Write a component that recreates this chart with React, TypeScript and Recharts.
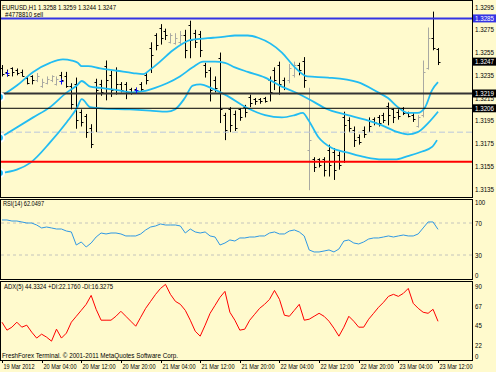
import React from "react";
import {
  ComposedChart,
  Bar,
  Line,
  Scatter,
  XAxis,
  YAxis,
  ReferenceLine,
} from "recharts";

const FONT = "'Liberation Sans', Arial, sans-serif";
const BG = "#fffacd";
const BAND = "#22bcf2";
const UP = "#a9a9a2";
const DOWN = "#000000";
const X_DOMAIN: [number, number] = [-0.4, 94.86];

// EURUSD H1 bars, 19 Mar 20:00 .. 23 Mar 12:00
const opens = [
  1.3241, 1.3238, 1.3241, 1.324, 1.3238, 1.3233, 1.3234, 1.3231, 1.3226, 1.3228,
  1.3231, 1.3227, 1.3235, 1.3234, 1.3226, 1.3227, 1.3203, 1.3199, 1.3189, 1.3229,
  1.3227, 1.3243, 1.3235, 1.324, 1.3227, 1.3227, 1.3223, 1.3223, 1.3227, 1.3235,
  1.3259, 1.327, 1.3277, 1.3274, 1.3264, 1.3263, 1.3264, 1.327, 1.3279, 1.3272,
  1.3271, 1.3244, 1.324, 1.3231, 1.325, 1.32, 1.3205, 1.3201, 1.3205, 1.3207,
  1.3216, 1.3214, 1.3214, 1.3215, 1.3231, 1.324, 1.3244, 1.3231, 1.3231, 1.3235,
  1.3244, 1.3248, 1.3169, 1.3161, 1.3161, 1.3161, 1.3169, 1.3168, 1.3165, 1.3198,
  1.3196, 1.3187, 1.3181, 1.3187, 1.3196, 1.3197, 1.3198, 1.32, 1.3208, 1.3205,
  1.3203, 1.3206, 1.3202, 1.32, 1.319, 1.32, 1.3241, 1.3268, 1.3258,
];
const highs = [
  1.3244, 1.324, 1.3242, 1.3241, 1.324, 1.3234, 1.3235, 1.3237, 1.3232, 1.3234,
  1.3235, 1.3234, 1.3238, 1.3238, 1.3228, 1.3233, 1.3205, 1.3201, 1.3192, 1.3232,
  1.3231, 1.3248, 1.3239, 1.3242, 1.3229, 1.3229, 1.3224, 1.3224, 1.3229, 1.3237,
  1.3264, 1.3272, 1.328, 1.3276, 1.3272, 1.3272, 1.3274, 1.3275, 1.3283, 1.3275,
  1.3274, 1.3246, 1.3242, 1.3234, 1.3255, 1.3202, 1.3207, 1.3204, 1.3206, 1.3209,
  1.3218, 1.3215, 1.3215, 1.3216, 1.3234, 1.3242, 1.3247, 1.3233, 1.3245, 1.3247,
  1.3246, 1.3251, 1.3224, 1.3163, 1.3162, 1.3163, 1.3174, 1.3171, 1.3168, 1.3203,
  1.3198, 1.319, 1.3183, 1.319, 1.3198, 1.3198, 1.32, 1.3202, 1.3211, 1.3206,
  1.3205, 1.3207, 1.3203, 1.3202, 1.32, 1.3248, 1.3277, 1.3291, 1.3259,
];
const lows = [
  1.3234, 1.3234, 1.3234, 1.3235, 1.3234, 1.3227, 1.3227, 1.3229, 1.3224, 1.3227,
  1.3229, 1.3226, 1.3228, 1.3224, 1.3205, 1.3188, 1.319, 1.318, 1.3171, 1.3185,
  1.3217, 1.3213, 1.3216, 1.3218, 1.322, 1.3214, 1.3218, 1.322, 1.3221, 1.3227,
  1.3237, 1.3257, 1.3262, 1.3266, 1.3263, 1.3262, 1.3262, 1.325, 1.325, 1.3259,
  1.3251, 1.3233, 1.3212, 1.322, 1.3193, 1.3178, 1.3185, 1.3186, 1.3195, 1.3198,
  1.3207, 1.3209, 1.321, 1.3211, 1.3212, 1.3222, 1.3218, 1.3222, 1.3228, 1.3233,
  1.3235, 1.3224, 1.3134, 1.315, 1.3154, 1.3146, 1.3146, 1.3143, 1.3152, 1.3158,
  1.3185, 1.3172, 1.3174, 1.318, 1.3185, 1.3191, 1.319, 1.3193, 1.3191, 1.3193,
  1.3196, 1.32, 1.3198, 1.3194, 1.3189, 1.3198, 1.324, 1.3257, 1.3244,
];
const closes = [
  1.3236, 1.3235, 1.3238, 1.3237, 1.3234, 1.3228, 1.3231, 1.3234, 1.3229, 1.3232,
  1.3234, 1.3232, 1.3231, 1.3226, 1.321, 1.3196, 1.3194, 1.3185, 1.3175, 1.3222,
  1.322, 1.3231, 1.3222, 1.3227, 1.3222, 1.3219, 1.3219, 1.3221, 1.3223, 1.3231,
  1.3253, 1.3262, 1.3268, 1.327, 1.327, 1.3268, 1.327, 1.3257, 1.3266, 1.3264,
  1.3257, 1.3238, 1.3222, 1.3224, 1.3205, 1.3187, 1.3191, 1.3189, 1.3198, 1.3203,
  1.3211, 1.3212, 1.3212, 1.3212, 1.322, 1.3231, 1.3227, 1.3224, 1.3241, 1.3244,
  1.324, 1.3231, 1.3178, 1.3154, 1.3156, 1.3152, 1.3156, 1.3152, 1.3156, 1.3191,
  1.3189, 1.3178, 1.3176, 1.3183, 1.319, 1.3194, 1.3193, 1.3196, 1.32, 1.3198,
  1.3199, 1.3202, 1.3199, 1.3197, 1.3198, 1.3238, 1.3268, 1.3259, 1.3247,
];

// Bollinger bands: [bar position, price]
const upperBand = [
  [-0.4, 1.3216], [3, 1.3226], [6.3, 1.3238], [9.7, 1.3246], [12.3, 1.3249],
  [14.1, 1.3248], [15.3, 1.3246], [16.1, 1.3243], [17.4, 1.3243], [19.8, 1.3241],
  [23.2, 1.3239], [26.4, 1.3237], [28.5, 1.3236], [29.9, 1.324], [31.9, 1.3247],
  [34.5, 1.3257], [36.5, 1.3263], [37.9, 1.3266], [40, 1.3267], [42.6, 1.3268],
  [45, 1.3269], [47, 1.327], [49.6, 1.327], [51.7, 1.3268], [56.5, 1.3255],
  [59.1, 1.3242], [61.6, 1.3234], [65.8, 1.3233], [71.8, 1.3229], [75.9, 1.322],
  [77.9, 1.3215], [79.9, 1.3207], [81.9, 1.3202], [83.9, 1.3202], [85.4, 1.3207],
  [86.8, 1.3222], [88, 1.3229],
];
const middleBand = [
  [-0.4, 1.318], [6.3, 1.3198], [9.7, 1.3207], [13.1, 1.322], [15.1, 1.3226],
  [16.1, 1.323], [17.8, 1.3225], [19.8, 1.3224], [23.2, 1.3222], [26.4, 1.322],
  [28.5, 1.3221], [30.9, 1.3224], [33.3, 1.3228], [35.9, 1.3234], [38.5, 1.3242],
  [40.6, 1.3247], [43, 1.3247], [45, 1.3246], [47, 1.3242], [49.6, 1.3238],
  [53.1, 1.3233], [56.5, 1.3225], [59.7, 1.3219], [63.2, 1.3211], [65.2, 1.3206],
  [69.8, 1.32], [73.3, 1.3196], [76.7, 1.3191], [79.9, 1.3185], [81.9, 1.3183],
  [83.9, 1.3185], [86, 1.3193], [88, 1.3203],
];
const lowerBand = [
  [-0.4, 1.3149], [3, 1.3152], [5.7, 1.3158], [9.7, 1.3176], [13.1, 1.3194],
  [15.1, 1.3206], [16.1, 1.3214], [17.8, 1.3207], [19.8, 1.3206], [25.8, 1.3205],
  [29.9, 1.3204], [33.3, 1.3203], [34.9, 1.3205], [36.9, 1.3215], [38.5, 1.3226],
  [40, 1.3227], [42.6, 1.3223], [45, 1.3218], [49.6, 1.3206], [53.1, 1.32],
  [56.5, 1.3198], [59.1, 1.32], [60.7, 1.3202], [61.8, 1.3196], [63.8, 1.3181],
  [66.6, 1.3171], [69.8, 1.3167], [73.3, 1.3163], [76.7, 1.3161], [79.3, 1.3161],
  [81.9, 1.3164], [84.8, 1.3168], [86.8, 1.3172], [87.8, 1.3178],
];

const tradeMarks = [[1, 1.3237], [12, 1.323], [27, 1.3222]];

const rsi = [
  73.8, 73.8, 72.5, 72.5, 71.3, 70, 70, 67.5, 63.8, 65, 63.8, 62.5, 62.5, 60,
  58.8, 42.5, 46.3, 40, 45, 52.5, 57.5, 56.3, 57.5, 57.5, 56.3, 53.8, 53.8, 53.8,
  56.3, 61.3, 65, 66.3, 68.8, 67.5, 67.5, 67.5, 66.3, 57.5, 62.5, 58.8, 57.5,
  58.8, 53.8, 52.5, 42.5, 45, 48.8, 47.5, 51.3, 51.3, 52.5, 52.5, 53.8, 53.8,
  57.5, 58.8, 56.3, 56.3, 60, 61.3, 58.8, 53.8, 36.3, 33.8, 33.8, 35, 36.3, 33.8,
  37.5, 47.5, 48.8, 45, 43.8, 46.3, 50, 51.3, 51.3, 52.5, 53.8, 52.5, 53.8, 55,
  53.8, 53.8, 56.3, 63.8, 71.3, 71.3, 62.05,
];
const adx = [
  43.3, 34.2, 37.6, 43.3, 37.6, 39.9, 31.9, 25.1, 29.6, 26.2, 21.6, 35.3, 25.1,
  30.8, 43.3, 50.1, 56.9, 63.8, 74, 58.1, 45.6, 45.6, 45.6, 50.1, 55.8, 50.1,
  44.4, 38.7, 49, 59.2, 67.2, 75.2, 82, 86.6, 75.2, 67.2, 63.8, 56.9, 45.6, 33,
  27.3, 39.9, 53.5, 62.6, 71.8, 78.6, 54.7, 45.6, 34.2, 35.3, 45.6, 52.4, 59.2,
  63.8, 69.5, 79.7, 69.5, 51.3, 50.1, 56.9, 63.8, 45.6, 46.7, 50.1, 53.5, 50.1,
  44.4, 36.4, 27.3, 37.6, 50.1, 44.4, 37.6, 37.6, 46.7, 53.5, 60.4, 66.1, 72.9,
  75.2, 72.9, 76.3, 82, 64.9, 59.2, 54.7, 53.5, 58.1, 44.33,
];

const priceTicks = [1.3135, 1.3155, 1.3175, 1.3195, 1.3215, 1.3235, 1.3255, 1.3275, 1.3295];
const rsiTicks = [0, 30, 70, 100];
const adxTicks = [0, 22, 45, 67, 90];
const timeTicks = [0, 8, 16, 24, 32, 40, 48, 56, 64, 72, 80, 88];
const timeLabels = [
  "19 Mar 2012", "20 Mar 04:00", "20 Mar 12:00", "20 Mar 20:00", "21 Mar 04:00",
  "21 Mar 12:00", "21 Mar 20:00", "22 Mar 04:00", "22 Mar 12:00", "22 Mar 20:00",
  "23 Mar 04:00", "23 Mar 12:00",
];

const bars = opens.map((o, i) => ({
  i,
  open: o,
  high: highs[i],
  low: lows[i],
  close: closes[i],
  range: [lows[i], highs[i]],
}));
const toPts = (arr: number[][]) => arr.map(([i, v]) => ({ i, v }));
const rsiData = rsi.map((v, i) => ({ i, v }));
const adxData = adx.map((v, i) => ({ i, v }));

// small terminal-style text, squeezed to the narrow width MT4 uses
function T({ x, y, w, fill = "#000", children }: any) {
  return (
    <text
      x={x}
      y={y}
      fontSize={7}
      fontFamily={FONT}
      fill={fill}
      textLength={w}
      lengthAdjust="spacingAndGlyphs"
    >
      {children}
    </text>
  );
}

function OhlcBar(props: any) {
  const { x, y, width, height, payload } = props;
  if (x == null || y == null) return null;
  const cx = Math.round(x + width / 2) + 0.5;
  const top = Math.min(y, y + height);
  const bot = Math.max(y, y + height);
  const span = payload.high - payload.low || 1;
  const py = (v: number) => top + ((payload.high - v) / span) * (bot - top);
  const color = payload.close > payload.open ? UP : DOWN;
  const oy = Math.round(py(payload.open)) + 0.5;
  const cy = Math.round(py(payload.close)) + 0.5;
  return (
    <g stroke={color} strokeWidth={1}>
      <line x1={cx} x2={cx} y1={top} y2={bot} />
      <line x1={cx - 2} x2={cx} y1={oy} y2={oy} />
      <line x1={cx} x2={cx + 2} y1={cy} y2={cy} />
    </g>
  );
}

function TradeMark(props: any) {
  const { cx, cy } = props;
  if (cx == null) return null;
  const x = Math.round(cx) + 0.5;
  const y = Math.round(cy) + 0.5;
  return (
    <g stroke="#1010f0" strokeWidth={1}>
      <line x1={x - 2} x2={x + 2} y1={y} y2={y} />
      <line x1={x} x2={x} y1={y - 3} y2={y + 3} />
    </g>
  );
}

function PriceTick({ y, payload }: any) {
  return (
    <T x={475} y={y + 2.5} w={19}>
      {Number(payload.value).toFixed(4)}
    </T>
  );
}

function makeIndTick(minY: number, maxY: number, dy: number) {
  return function IndTick({ y, payload }: any) {
    const ty = Math.min(Math.max(y + dy, minY), maxY);
    const s = String(payload.value);
    return (
      <T x={475} y={ty + 2.5} w={s.length * 3.4}>
        {s}
      </T>
    );
  };
}
const RsiTick = makeIndTick(3.5, 76.5, 0);
const AdxTick = makeIndTick(4, 75.5, 5);

function TimeTick({ x, payload }: any) {
  const k = timeTicks.indexOf(payload.value);
  const tx = Math.round(x) + 0.5;
  const label = timeLabels[k];
  return (
    <g>
      <line x1={tx} x2={tx} y1={79} y2={82} stroke="#000" />
      <T x={tx + 1} y={88} w={k === 0 ? 31 : 33}>
        {label}
      </T>
    </g>
  );
}

function tag(text: string, bg: string) {
  return (p: any) => {
    const y = p.viewBox ? p.viewBox.y : 0;
    return (
      <g>
        <rect x={473} y={y - 4} width={23} height={8} fill={bg} />
        <T x={475} y={y + 2.5} w={19} fill="#fff">
          {text}
        </T>
      </g>
    );
  };
}

const pane = (top: number, height: number): React.CSSProperties => ({
  position: "absolute",
  left: 0,
  top,
  width: 473,
  height,
  boxSizing: "border-box",
  border: "1px solid #000",
  pointerEvents: "none",
});

export default function App() {
  return (
    <div
      style={{
        position: "absolute",
        left: 0,
        top: 0,
        width: 496,
        height: 372,
        background: BG,
        overflow: "hidden",
        fontFamily: FONT,
      }}
    >
      {/* price pane */}
      <div style={{ position: "absolute", left: 0, top: 0 }}>
        <ComposedChart
          width={496}
          height={198}
          data={bars}
          margin={{ top: 0, right: 0, bottom: 1, left: 0 }}
        >
          <XAxis dataKey="i" type="number" domain={X_DOMAIN} allowDataOverflow hide />
          <YAxis
            orientation="right"
            width={24}
            type="number"
            domain={[1.3128, 1.33012]}
            allowDataOverflow
            ticks={priceTicks}
            interval={0}
            axisLine={false}
            tickLine={false}
            tick={<PriceTick />}
          />
          <ReferenceLine y={1.3185} stroke="#b9c6dc" strokeDasharray="6 3" />
          <Bar dataKey="range" barSize={4} shape={<OhlcBar />} isAnimationActive={false} />
          <Line data={toPts(upperBand)} dataKey="v" type="monotone" stroke={BAND} strokeWidth={1.8} dot={false} isAnimationActive={false} />
          <Line data={toPts(middleBand)} dataKey="v" type="monotone" stroke={BAND} strokeWidth={1.8} dot={false} isAnimationActive={false} />
          <Line data={toPts(lowerBand)} dataKey="v" type="monotone" stroke={BAND} strokeWidth={1.8} dot={false} isAnimationActive={false} />
          <Scatter data={toPts(tradeMarks)} dataKey="v" shape={<TradeMark />} isAnimationActive={false} />
          <ReferenceLine y={1.3285} stroke="#3434e4" strokeWidth={2} label={tag("1.3285", "#3434e4")} />
          <ReferenceLine y={1.3219} stroke="#333333" strokeWidth={2} label={tag("1.3219", "#000")} />
          <ReferenceLine y={1.3206} stroke="#000" strokeWidth={1} label={tag("1.3206", "#000")} />
          <ReferenceLine y={1.3159} stroke="#ff0000" strokeWidth={2} />
          <ReferenceLine y={1.3247} stroke="none" label={tag("1.3247", "#000")} />
        </ComposedChart>
      </div>

      {/* RSI pane */}
      <div style={{ position: "absolute", left: 0, top: 199 }}>
        <ComposedChart
          width={496}
          height={80}
          data={rsiData}
          margin={{ top: 0, right: 0, bottom: 0, left: 0 }}
        >
          <XAxis dataKey="i" type="number" domain={X_DOMAIN} allowDataOverflow hide />
          <YAxis
            orientation="right"
            width={24}
            type="number"
            domain={[0, 100]}
            ticks={rsiTicks}
            interval={0}
            axisLine={false}
            tickLine={false}
            tick={<RsiTick />}
          />
          <ReferenceLine y={70} stroke="#c4c4bc" strokeDasharray="3 3" />
          <ReferenceLine y={30} stroke="#c4c4bc" strokeDasharray="3 3" />
          <Line dataKey="v" type="linear" stroke="#2f98e4" strokeWidth={1} dot={false} isAnimationActive={false} />
        </ComposedChart>
      </div>

      {/* ADX pane */}
      <div style={{ position: "absolute", left: 0, top: 281 }}>
        <ComposedChart
          width={496}
          height={91}
          data={adxData}
          margin={{ top: 0, right: 0, bottom: 0, left: 0 }}
        >
          <XAxis
            dataKey="i"
            type="number"
            domain={X_DOMAIN}
            allowDataOverflow
            height={12}
            ticks={timeTicks}
            interval={0}
            axisLine={false}
            tickLine={false}
            tick={<TimeTick />}
          />
          <YAxis
            orientation="right"
            width={24}
            type="number"
            domain={[0, 90.5]}
            ticks={adxTicks}
            interval={0}
            axisLine={false}
            tickLine={false}
            tick={<AdxTick />}
          />
          <Line dataKey="v" type="linear" stroke="#ff0000" strokeWidth={1} dot={false} isAnimationActive={false} />
        </ComposedChart>
      </div>

      <div style={pane(0, 198)} />
      <div style={pane(199, 81)} />
      <div style={pane(281, 80)} />

      <svg
        width={496}
        height={372}
        style={{ position: "absolute", left: 0, top: 0, pointerEvents: "none" }}
      >
        <T x={2} y={9.5} w={114}>EURUSD,H1 1.3258 1.3259 1.3244 1.3247</T>
        <T x={5} y={16.5} w={38}>#4778810 sell</T>
        <T x={3} y={206} w={41}>RSI(14) 62.0497</T>
        <T x={4} y={289} w={109}>ADX(5) 44.3324 +DI:22.1760 -DI:16.3275</T>
        <T x={2} y={358} w={176}>FreshForex Terminal. © 2001-2011 MetaQuotes Software Corp.</T>
      </svg>
    </div>
  );
}
